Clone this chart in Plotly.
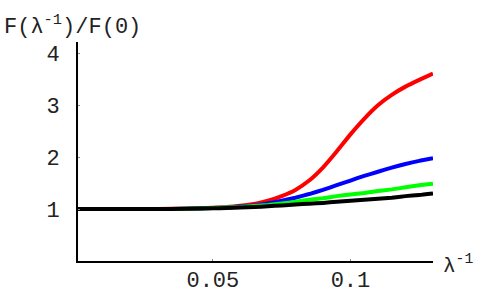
import plotly.graph_objects as go

# inverse wavelength values (lambda^-1)
lam_inv = [0.0, 0.01, 0.02, 0.03, 0.04, 0.05, 0.055, 0.06, 0.065, 0.07, 0.075,
           0.08, 0.085, 0.09, 0.095, 0.10, 0.105, 0.11, 0.115, 0.12, 0.125, 0.13]

# F(lambda^-1)/F(0) for the four curves
red_vals = [1.0, 1.0, 1.0, 1.002, 1.008, 1.025, 1.04, 1.065, 1.10, 1.16, 1.25,
            1.37, 1.55, 1.80, 2.11, 2.44, 2.74, 3.00, 3.20, 3.36, 3.49, 3.61]
blue_vals = [1.0, 1.0, 1.0, 1.002, 1.007, 1.02, 1.03, 1.05, 1.07, 1.11, 1.16,
             1.22, 1.29, 1.37, 1.46, 1.55, 1.64, 1.72, 1.80, 1.87, 1.93, 1.98]
green_vals = [1.0, 1.0, 1.0, 1.002, 1.006, 1.02, 1.03, 1.04, 1.06, 1.08, 1.11,
              1.14, 1.18, 1.21, 1.25, 1.28, 1.31, 1.35, 1.38, 1.42, 1.46, 1.49]
black_vals = [1.0, 1.0, 1.0, 1.002, 1.005, 1.015, 1.02, 1.03, 1.04, 1.055, 1.07,
              1.09, 1.105, 1.12, 1.14, 1.16, 1.18, 1.20, 1.22, 1.25, 1.27, 1.30]

x_ticks = [0.05, 0.1]
x_ticktext = ["0.05", "0.1"]
y_ticks = [1, 2, 3, 4]

mono = "Liberation Mono"

fig = go.Figure()

# draw in the same order as the original so black ends up on top
for vals, col in [(red_vals, "#ff0000"), (blue_vals, "#0000ff"),
                  (green_vals, "#00ff00"), (black_vals, "#000000")]:
    fig.add_trace(
        go.Scatter(
            x=lam_inv,
            y=vals,
            mode="lines",
            line=dict(color=col, width=4, shape="spline", smoothing=0.4),
            showlegend=False,
            hoverinfo="skip",
        )
    )

fig.update_xaxes(
    range=[0.001, 0.13],
    tickvals=x_ticks,
    ticktext=x_ticktext,
    ticks="inside",
    ticklen=2,
    tickcolor="#888",
    showline=True,
    linecolor="black",
    linewidth=2,
    showgrid=False,
    zeroline=False,
    automargin=False,
    ticklabelstandoff=-2,
    tickfont=dict(family=mono, size=22, color="#222"),
)

fig.update_yaxes(
    range=[0, 4.22],
    tickvals=y_ticks,
    ticks="inside",
    ticklen=2,
    tickcolor="#888",
    showline=True,
    linecolor="black",
    linewidth=2,
    showgrid=False,
    zeroline=False,
    automargin=False,
    ticklabelstandoff=12,
    tickfont=dict(family=mono, size=22, color="#222"),
)

# axis labels placed the Mathematica way: y at top-left, x at right end
fig.add_annotation(
    text="F(λ<sup>-1</sup>)/F(0)",
    xref="paper", yref="paper", x=-0.215, y=1.0,
    xanchor="left", yanchor="bottom", yshift=0,
    showarrow=False,
    font=dict(family=mono, size=22, color="#222"),
)
fig.add_annotation(
    text="λ<sup>-1</sup>",
    xref="paper", yref="paper", x=1.0, y=0.0,
    xanchor="left", yanchor="middle", xshift=8, yshift=-3,
    showarrow=False,
    font=dict(family=mono, size=21, color="#222"),
)

fig.update_layout(
    width=485,
    height=299,
    margin=dict(l=78, r=52, t=42, b=38),
    paper_bgcolor="white",
    plot_bgcolor="white",
)

# drop the browser's default body margin so the figure sits at the corner
fig.write_html(
    "out.html",
    config={"displayModeBar": False},
    post_script="document.body.style.margin='0';",
)
